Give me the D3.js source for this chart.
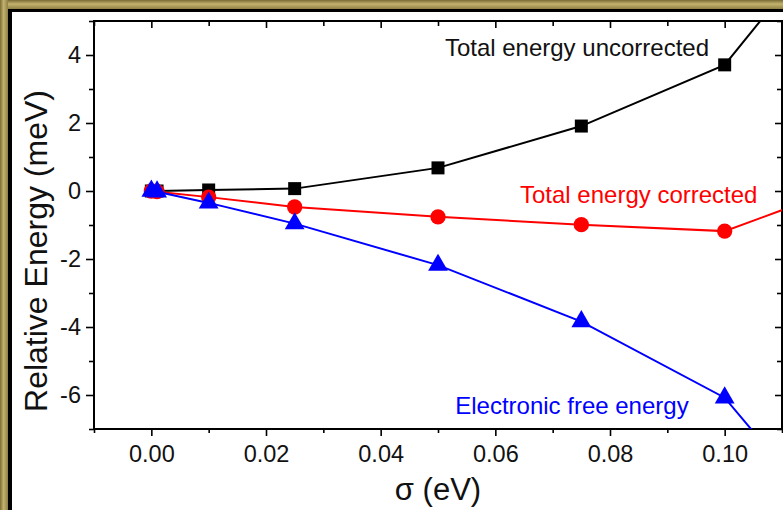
<!DOCTYPE html>
<html>
<head>
<meta charset="utf-8">
<script src="https://cdn.jsdelivr.net/npm/d3@7"></script>
<style>
  body { margin: 0; background: #fff; }
  svg { display: block; font-family: "Liberation Sans", Arial, sans-serif; }
</style>
</head>
<body>
<div id="chart"></div>
<script>
// sigma (eV) and relative energies (meV)
const sigma = [0, 0.001, 0.01, 0.025, 0.05, 0.075, 0.1, 0.15];
const uncorrected = [0, 0, 0.03, 0.07, 0.68, 1.91, 3.71, 14.1];
const corrected = [0, -0.02, -0.18, -0.47, -0.76, -0.99, -1.18, 1.9];
const freeEnergy = [0, -0.02, -0.35, -0.96, -2.18, -3.84, -6.08, -16.1];

const xMajor = [0, 0.02, 0.04, 0.06, 0.08, 0.10];
const xMinor = [-0.01, 0.01, 0.03, 0.05, 0.07, 0.09, 0.11];
const yMajor = [-6, -4, -2, 0, 2, 4];
const yMinor = [-7, -5, -3, -1, 1, 3, 5];

const W = 783, H = 510;
const margin = { top: 21, right: 1, bottom: 81, left: 94 };
const width = W - margin.left - margin.right;
const height = H - margin.top - margin.bottom;

const root = d3.select("#chart").append("svg")
  .attr("width", W)
  .attr("height", H);

// gold picture frame on top and left
const defs = root.append("defs");
const gTop = defs.append("linearGradient").attr("id", "gTop")
  .attr("x1", 0).attr("y1", 0).attr("x2", 0).attr("y2", 1);
gTop.append("stop").attr("offset", "0%").attr("stop-color", "#7a6c36");
gTop.append("stop").attr("offset", "45%").attr("stop-color", "#c4b36e");
gTop.append("stop").attr("offset", "100%").attr("stop-color", "#8e7f45");
const gLeft = defs.append("linearGradient").attr("id", "gLeft")
  .attr("x1", 0).attr("y1", 0).attr("x2", 1).attr("y2", 0);
gLeft.append("stop").attr("offset", "0%").attr("stop-color", "#7a6c36");
gLeft.append("stop").attr("offset", "45%").attr("stop-color", "#c4b36e");
gLeft.append("stop").attr("offset", "100%").attr("stop-color", "#8e7f45");
defs.append("clipPath").attr("id", "plotClip")
  .append("rect").attr("width", width).attr("height", height);

root.append("rect").attr("x", 0).attr("y", 0).attr("width", W).attr("height", 9).attr("fill", "url(#gTop)");
root.append("rect").attr("x", 0).attr("y", 0).attr("width", 8).attr("height", H).attr("fill", "url(#gLeft)");
root.append("rect").attr("x", 8).attr("y", 9).attr("width", W).attr("height", 3).attr("fill", "#000");
root.append("rect").attr("x", 8).attr("y", 9).attr("width", 4).attr("height", H).attr("fill", "#000");

const svg = root.append("g")
  .attr("transform", `translate(${margin.left}, ${margin.top})`);

const x = d3.scaleLinear().domain([-0.01, 0.11]).range([0, width]);
const y = d3.scaleLinear().domain([-7, 5]).range([height, 0]);

// axes
function styleAxis(g) {
  g.select(".domain").remove();
  g.selectAll("line").attr("stroke", "#000").attr("stroke-width", 1.6);
  g.selectAll("text").attr("fill", "#111").style("font-size", "23.5px");
}
svg.append("g").attr("transform", `translate(0, ${height})`)
  .call(d3.axisBottom(x).tickValues(xMajor).tickSize(7).tickPadding(9).tickFormat(d3.format(".2f")))
  .call(styleAxis);
svg.append("g").attr("transform", `translate(0, ${height})`)
  .call(d3.axisBottom(x).tickValues(xMinor).tickSize(4).tickFormat(""))
  .call(styleAxis);
svg.append("g")
  .call(d3.axisLeft(y).tickValues(yMajor).tickSize(8).tickPadding(5).tickFormat(d => String(d)))
  .call(styleAxis);
svg.append("g")
  .call(d3.axisLeft(y).tickValues(yMinor).tickSize(5).tickFormat(""))
  .call(styleAxis);
svg.append("g")
  .call(d3.axisTop(x).tickValues(xMajor).tickSize(-7).tickFormat(""))
  .call(styleAxis);
svg.append("g")
  .call(d3.axisTop(x).tickValues(xMinor).tickSize(-5).tickFormat(""))
  .call(styleAxis);
svg.append("g").attr("transform", `translate(${width}, 0)`)
  .call(d3.axisRight(y).tickValues(yMajor).tickSize(-7).tickFormat(""))
  .call(styleAxis);
svg.append("g").attr("transform", `translate(${width}, 0)`)
  .call(d3.axisRight(y).tickValues(yMinor).tickSize(-5).tickFormat(""))
  .call(styleAxis);

svg.append("rect")
  .attr("width", width).attr("height", height)
  .attr("fill", "none").attr("stroke", "#000").attr("stroke-width", 2);

// series
const series = [
  { name: "Total energy uncorrected", values: uncorrected, color: "#000000", shape: d3.symbolSquare, size: 169 },
  { name: "Total energy corrected", values: corrected, color: "#ff0000", shape: d3.symbolCircle, size: 185 },
  { name: "Electronic free energy", values: freeEnergy, color: "#0000ff", shape: d3.symbolTriangle, size: 170 }
];

const line = d3.line()
  .x(d => x(d[0]))
  .y(d => y(d[1]));

series.forEach(s => {
  const pts = sigma.map((v, i) => [v, s.values[i]]);
  svg.append("path")
    .datum(pts)
    .attr("clip-path", "url(#plotClip)")
    .attr("fill", "none")
    .attr("stroke", s.color)
    .attr("stroke-width", 2)
    .attr("d", line);
  svg.selectAll(null)
    .data(pts.filter(d => d[0] <= 0.11 && d[1] >= -7 && d[1] <= 5))
    .enter().append("path")
    .attr("transform", d => `translate(${x(d[0])}, ${y(d[1])})`)
    .attr("d", d3.symbol().type(s.shape).size(s.size))
    .attr("fill", s.color);
});

// in-plot labels
const labels = [
  { text: "Total energy uncorrected", color: "#111", xv: 0.0512, yv: 3.97 },
  { text: "Total energy corrected", color: "#ff0000", xv: 0.0643, yv: -0.34 },
  { text: "Electronic free energy", color: "#0000ff", xv: 0.0530, yv: -6.57 }
];
svg.selectAll(".lbl")
  .data(labels)
  .enter().append("text")
  .attr("class", "lbl")
  .attr("x", d => x(d.xv))
  .attr("y", d => y(d.yv))
  .attr("fill", d => d.color)
  .style("font-size", "24px")
  .text(d => d.text);

// axis titles
svg.append("text")
  .attr("transform", "rotate(-90)")
  .attr("x", -height / 2 - 26)
  .attr("y", -margin.left + 47)
  .style("text-anchor", "middle")
  .style("font-size", "32px")
  .attr("fill", "#111")
  .text("Relative Energy (meV)");

svg.append("text")
  .attr("x", width / 2)
  .attr("y", height + 71)
  .style("text-anchor", "middle")
  .style("font-size", "31px")
  .attr("fill", "#111")
  .text("σ (eV)");
</script>
</body>
</html>
